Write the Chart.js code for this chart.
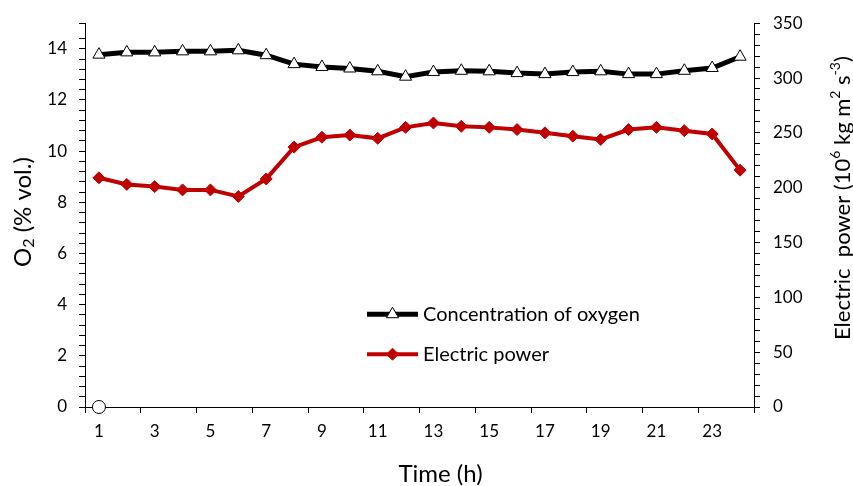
<!DOCTYPE html>
<html>
<head>
<meta charset="utf-8">
<script src="https://cdn.jsdelivr.net/npm/chart.js@4.4.1/dist/chart.umd.min.js"></script>
<style>
    html, body { margin: 0; padding: 0; background: #fff; }
    #wrap { width: 853px; height: 486px; }
</style>
</head>
<body>
<div id="wrap"><canvas id="o2Chart"></canvas></div>
<script>
// Данные

const hours = ['1', '2', '3', '4', '5', '6', '7', '8', '9', '10', '11', '12',
    '13', '14', '15', '16', '17', '18', '19', '20', '21', '22', '23', '24'];
const oxygen = [13.77, 13.86, 13.86, 13.9, 13.9, 13.94, 13.75, 13.4, 13.29, 13.23, 13.12, 12.91,
    13.09, 13.14, 13.12, 13.05, 13.01, 13.09, 13.12, 13.01, 13.01, 13.14, 13.25, 13.69];
const power = [209, 203, 201, 198, 198, 192, 208, 237, 246, 248, 245, 255,
    259, 256, 255, 253, 250, 247, 244, 253, 255, 252, 249, 216];
const startPoint = [0];

const FONT = 'Lato';

// Текст с индексами (O2, 10^6 ...)

function drawRich(ctx, parts, x, y, size, rot) {
    ctx.save();
    ctx.translate(x, y);
    ctx.rotate(rot);
    const big = size + 'px ' + FONT;
    const small = Math.round(size * 0.65) + 'px ' + FONT;
    let w = 0;
    parts.forEach(p => { ctx.font = p[1] ? small : big; w += ctx.measureText(p[0]).width; });
    let cx = -w / 2;
    ctx.textBaseline = 'middle';
    ctx.fillStyle = '#000';
    parts.forEach(p => {
        ctx.font = p[1] ? small : big;
        const dy = p[1] === 'sup' ? -size * 0.33 : (p[1] === 'sub' ? size * 0.25 : 0);
        ctx.fillText(p[0], cx, dy);
        cx += ctx.measureText(p[0]).width;
    });
    ctx.restore();
}

const titlesPlugin = {
    id: 'axisTitles',
    afterDraw(chart) {
        const ctx = chart.ctx;
        const a = chart.chartArea;
        drawRich(ctx, [['O'], ['2', 'sub'], [' (% vol.)']], a.left - 62, (a.top + a.bottom) / 2 - 3, 24, -Math.PI / 2);
        drawRich(ctx, [['Electric  power (10'], ['6', 'sup'], [' kg m'], ['2', 'sup'], [' s'], ['-3', 'sup'], [')']],
            a.right + 89, (a.top + a.bottom) / 2 - 17, 22, -Math.PI / 2);
        drawRich(ctx, [['Time (h)']], (a.left + a.right) / 2 + 21, a.bottom + 67, 24, 0);
    }
};

// Легенда внутри области графика

const legendPlugin = {
    id: 'insideLegend',
    afterDatasetsDraw(chart) {
        const ctx = chart.ctx;
        const a = chart.chartArea;
        const x0 = a.left + 282, x1 = x0 + 51;
        const rows = [
            { ds: chart.data.datasets[0], y: a.top + 291 },
            { ds: chart.data.datasets[1], y: a.top + 331 },
        ];
        rows.forEach(r => {
            ctx.save();
            ctx.strokeStyle = r.ds.borderColor;
            ctx.lineWidth = r.ds.borderWidth;
            ctx.beginPath();
            ctx.moveTo(x0, r.y);
            ctx.lineTo(x1, r.y);
            ctx.stroke();
            ctx.fillStyle = r.ds.pointBackgroundColor;
            ctx.strokeStyle = r.ds.pointBorderColor;
            ctx.lineWidth = r.ds.pointBorderWidth;
            Chart.helpers.drawPoint(ctx, {
                pointStyle: r.ds.pointStyle,
                radius: r.ds.pointRadius,
                borderWidth: r.ds.pointBorderWidth,
                rotation: 0,
            }, (x0 + x1) / 2, r.y);
            ctx.font = '20px ' + FONT;
            ctx.fillStyle = '#000';
            ctx.textBaseline = 'middle';
            ctx.fillText(r.ds.label, x1 + 5, r.y);
            ctx.restore();
        });
    }
};

const o2Chart = document.getElementById('o2Chart');

new Chart(o2Chart, {
    type: 'line',
    data: {
        labels: hours,
        datasets: [
            {
                label: 'Concentration of oxygen',
                data: oxygen,
                yAxisID: 'y',
                borderColor: '#000000',
                borderWidth: 5,
                pointStyle: 'triangle',
                pointRadius: 7,
                pointBackgroundColor: '#ffffff',
                pointBorderColor: '#000000',
                pointBorderWidth: 1,
                tension: 0,
            },
            {
                label: 'Electric power',
                data: power,
                yAxisID: 'y1',
                borderColor: '#C00000',
                borderWidth: 4,
                pointStyle: 'rectRot',
                pointRadius: 6,
                pointBackgroundColor: '#C00000',
                pointBorderColor: '#C00000',
                pointBorderWidth: 1,
                tension: 0,
            },
            {
                label: '',
                data: startPoint,
                yAxisID: 'y',
                showLine: false,
                pointStyle: 'circle',
                pointRadius: 6.5,
                pointBackgroundColor: '#ffffff',
                pointBorderColor: '#000000',
                pointBorderWidth: 1,
                clip: false,
            },
        ]
    },
    options: {
        responsive: true,
        maintainAspectRatio: false,
        animation: false,
        layout: { padding: { top: 22, left: 0, right: 0, bottom: 0 } },
        plugins: {
            legend: { display: false },
            tooltip: { enabled: false },
        },
        scales: {
            x: {
                type: 'category',
                offset: true,
                afterFit(s) { s.height = 79; },
                border: { color: '#000', width: 1 },
                grid: {
                    offset: true,
                    drawOnChartArea: false,
                    tickLength: 6,
                    tickColor: c => (c.index === undefined || c.index % 2 === 0) ? '#000' : 'rgba(0,0,0,0)',
                },
                ticks: {
                    autoSkip: false,
                    maxRotation: 0,
                    padding: 8,
                    color: '#000',
                    font: { family: FONT, size: 17 },
                    callback: (v, i) => i % 2 === 0 ? hours[i] : '',
                },
            },
            y: {
                position: 'left',
                min: 0,
                max: 15,
                afterFit(s) { s.width = 85; },
                border: { color: '#000', width: 1 },
                grid: { drawOnChartArea: false, tickLength: 6, tickColor: '#000' },
                ticks: {
                    stepSize: 0.4,
                    autoSkip: false,
                    padding: 12,
                    color: '#000',
                    font: { family: FONT, size: 17 },
                    callback: v => (Number.isInteger(v) && v % 2 === 0) ? v : '',
                },
            },
            y1: {
                position: 'right',
                min: 0,
                max: 350,
                afterFit(s) { s.width = 99; },
                border: { color: '#000', width: 1 },
                grid: { drawOnChartArea: false, tickLength: 6, tickColor: '#000' },
                ticks: {
                    stepSize: 10,
                    autoSkip: false,
                    padding: 13,
                    color: '#000',
                    font: { family: FONT, size: 17 },
                    callback: v => v % 50 === 0 ? v : '',
                },
            },
        },
    },
    plugins: [legendPlugin, titlesPlugin],
});
</script>
</body>
</html>
